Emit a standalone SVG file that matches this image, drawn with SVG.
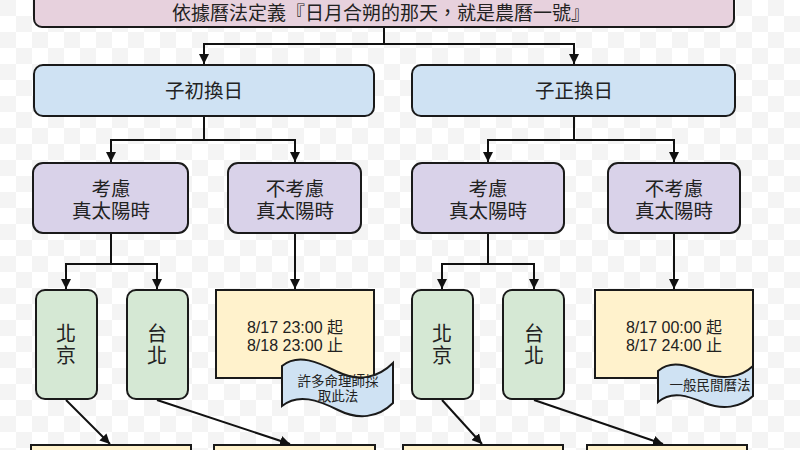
<svg xmlns="http://www.w3.org/2000/svg" width="800" height="450" viewBox="0 0 800 450">
<defs>
<pattern id="chk" x="0" y="0" width="32" height="32" patternUnits="userSpaceOnUse">
<rect width="32" height="32" fill="#ffffff"/>
<rect width="16" height="16" fill="#f4f4f4"/>
<rect x="16" y="16" width="16" height="16" fill="#f4f4f4"/>
</pattern>
<marker id="arr" viewBox="0 0 10 10" refX="10" refY="5" markerWidth="10" markerHeight="10" markerUnits="userSpaceOnUse" orient="auto">
<path d="M0,0 L10,5 L0,10 Z" fill="#111"/>
</marker>
<style>
.box{stroke:#1a1a1a;stroke-width:2}
.pink{fill:#e7d1dd}
.blue{fill:#cfe2f3}
.purple{fill:#d9d2e9}
.green{fill:#d5e8d4}
.yellow{fill:#fff2cc}
.tag{fill:#cfe2f3;stroke:#1a1a1a;stroke-width:2}
text{font-family:"Liberation Sans","Noto Sans CJK TC",sans-serif;fill:#222;text-anchor:middle;dominant-baseline:central}
.t19{font-size:19px}
.t20{font-size:19.5px}
.tg{font-size:20px}
.t16{font-size:16px}
.t14{font-size:13.5px}
.conn path{fill:none;stroke:#111;stroke-width:2}
</style>
</defs>
<rect width="800" height="450" fill="url(#chk)"/>

<g id="top">
<rect class="box pink" x="34" y="-12" width="700" height="39" rx="8"/>
<text class="t19" x="381" y="13">依據曆法定義『日月合朔的那天，就是農曆一號』</text>
</g>

<g id="zichu">
<rect class="box blue" x="34" y="65" width="340" height="51" rx="9"/>
<text class="t20" x="204" y="91">子初換日</text>
</g>
<g id="zizheng">
<rect class="box blue" x="412" y="65" width="323" height="51" rx="9"/>
<text class="t20" x="574" y="91">子正換日</text>
</g>

<g id="L-consider">
<rect class="box purple" x="33" y="163" width="155" height="70" rx="10"/>
<text class="t20" x="111" y="189">考慮</text>
<text class="t20" x="111" y="211">真太陽時</text>
</g>
<g id="L-noconsider">
<rect class="box purple" x="228" y="163" width="133" height="70" rx="10"/>
<text class="t20" x="295" y="189">不考慮</text>
<text class="t20" x="295" y="211">真太陽時</text>
</g>
<g id="R-consider">
<rect class="box purple" x="412" y="163" width="152" height="70" rx="10"/>
<text class="t20" x="488" y="189">考慮</text>
<text class="t20" x="488" y="211">真太陽時</text>
</g>
<g id="R-noconsider">
<rect class="box purple" x="608" y="163" width="132" height="70" rx="10"/>
<text class="t20" x="674" y="189">不考慮</text>
<text class="t20" x="674" y="211">真太陽時</text>
</g>

<g id="L-beijing">
<rect class="box green" x="36" y="290" width="61" height="109" rx="9"/>
<text class="tg" x="66" y="334">北</text>
<text class="tg" x="66" y="356">京</text>
</g>
<g id="L-taipei">
<rect class="box green" x="127" y="290" width="61" height="109" rx="9"/>
<text class="tg" x="157" y="334">台</text>
<text class="tg" x="157" y="356">北</text>
</g>
<g id="R-beijing">
<rect class="box green" x="412" y="290" width="61" height="109" rx="9"/>
<text class="tg" x="442" y="334">北</text>
<text class="tg" x="442" y="356">京</text>
</g>
<g id="R-taipei">
<rect class="box green" x="503" y="290" width="61" height="109" rx="9"/>
<text class="tg" x="534" y="334">台</text>
<text class="tg" x="534" y="356">北</text>
</g>

<g id="L-range">
<rect class="box yellow" x="216" y="290" width="158" height="88"/>
<text class="t16" x="295" y="327">8/17 23:00 起</text>
<text class="t16" x="295" y="345">8/18 23:00 止</text>
</g>
<g id="R-range">
<rect class="box yellow" x="595" y="290" width="158" height="88"/>
<text class="t16" x="674" y="327">8/17 00:00 起</text>
<text class="t16" x="674" y="345">8/17 24:00 止</text>
</g>

<g id="L-note">
<path class="tag" d="M282,366 C298,353 318,362 338,372 C358,382 378,378 393,363 L393,403 C378,418 358,420 338,410 C318,400 298,393 282,406 Z"/>
<text class="t14" x="338" y="381">許多命理師採</text>
<text class="t14" x="338" y="396">取此法</text>
</g>
<g id="R-note">
<path class="tag" d="M658,371 C672,359 688,366 705,373 C722,380 740,378 753,366 L753,396 C740,408 722,410 705,403 C688,396 672,390 658,402 Z"/>
<text class="t14" x="710" y="385">一般民間曆法</text>
</g>

<g id="bottom1"><rect class="box yellow" x="31" y="445" width="160" height="30"/></g>
<g id="bottom2"><rect class="box yellow" x="214" y="445" width="161" height="30"/></g>
<g id="bottom3"><rect class="box yellow" x="403" y="445" width="160" height="30"/></g>
<g id="bottom4"><rect class="box yellow" x="587" y="445" width="160" height="30"/></g>

<g class="conn" id="connectors">
<path d="M384,28 V44 H204 V64" marker-end="url(#arr)"/>
<path d="M384,44 H574 V64" marker-end="url(#arr)"/>
<path d="M204,117 V140 H111 V162" marker-end="url(#arr)"/>
<path d="M204,140 H295 V162" marker-end="url(#arr)"/>
<path d="M574,117 V140 H488 V162" marker-end="url(#arr)"/>
<path d="M574,140 H674 V162" marker-end="url(#arr)"/>
<path d="M111,234 V264 H66 V289" marker-end="url(#arr)"/>
<path d="M111,264 H157 V289" marker-end="url(#arr)"/>
<path d="M295,234 V289" marker-end="url(#arr)"/>
<path d="M488,234 V264 H442 V289" marker-end="url(#arr)"/>
<path d="M488,264 H534 V289" marker-end="url(#arr)"/>
<path d="M674,234 V289" marker-end="url(#arr)"/>
<path d="M66,400 L110,444" marker-end="url(#arr)"/>
<path d="M157,400 L290,444" marker-end="url(#arr)"/>
<path d="M442,400 L482,444" marker-end="url(#arr)"/>
<path d="M534,400 L663,444" marker-end="url(#arr)"/>
</g>
</svg>
